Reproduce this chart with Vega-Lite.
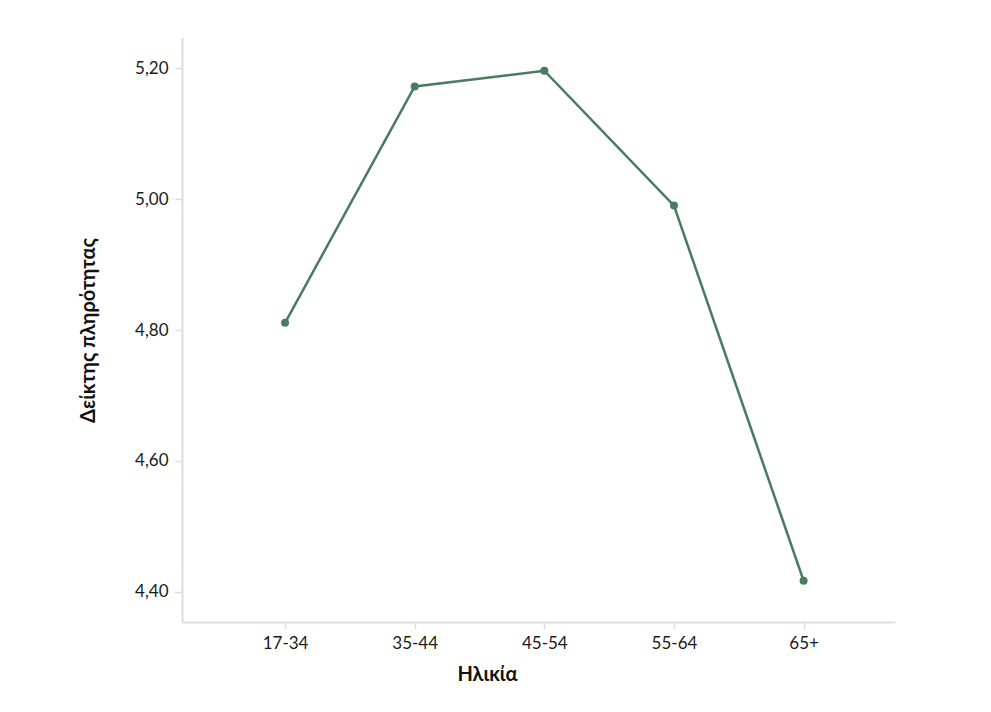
{
  "$schema": "https://vega.github.io/schema/vega-lite/v6.json",
  "autosize": {"type": "none"},
  "padding": {"left": 182, "top": 38, "right": 96, "bottom": 90},
  "width": 713,
  "height": 584,
  "background": "white",
  "config": {
    "view": {"stroke": null},
    "font": "Lato",
    "axis": {
      "domainColor": "#dddddd",
      "tickColor": "#dddddd",
      "grid": false,
      "labelFont": "Lato",
      "labelFontSize": 17,
      "labelColor": "#1a1a1a",
      "titleFont": "Lato",
      "titleFontSize": 20,
      "titleFontWeight": "bold",
      "titleColor": "#111111",
      "tickSize": 7,
      "domainWidth": 2,
      "tickWidth": 1.5
    }
  },
  "data": {
    "values": [
      {"age": "17-34", "value": 4.811},
      {"age": "35-44", "value": 5.172},
      {"age": "45-54", "value": 5.196},
      {"age": "55-64", "value": 4.990},
      {"age": "65+", "value": 4.417}
    ]
  },
  "mark": {"type": "line", "color": "#4b7b5f", "strokeWidth": 2.5, "point": {"filled": true, "size": 64, "color": "#4b7b5f"}},
  "encoding": {
    "x": {
      "field": "age",
      "type": "ordinal",
      "sort": null,
      "scale": {"type": "point", "padding": 0.75, "align": 0.53},
      "axis": {"title": "Ηλικία", "labelAngle": 0, "labelPadding": 6, "titlePadding": 13, "titleX": 305}
    },
    "y": {
      "field": "value",
      "type": "quantitative",
      "scale": {"domain": [4.354, 5.246], "nice": false, "zero": false},
      "axis": {
        "title": "Δείκτης πληρότητας",
        "values": [4.4, 4.6, 4.8, 5.0, 5.2],
        "labelExpr": "replace(format(datum.value, '.2f'), '.', ',')",
        "labelPadding": 7,
        "titlePadding": 36
      }
    }
  }
}
